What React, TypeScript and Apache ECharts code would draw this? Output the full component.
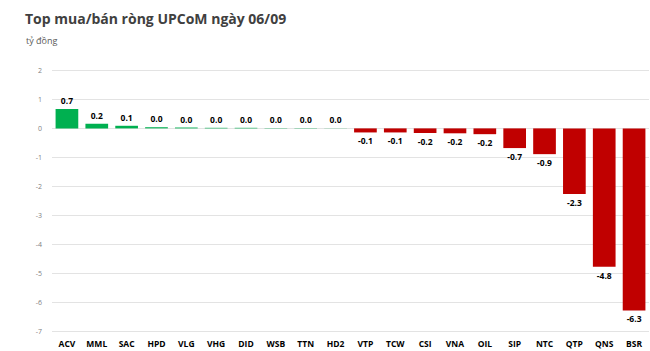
import React, { useEffect, useRef } from "react";
import * as echarts from "echarts";

const categories = ["ACV", "MML", "SAC", "HPD", "VLG", "VHG", "DID", "WSB", "TTN", "HD2", "VTP", "TCW", "CSI", "VNA", "OIL", "SIP", "NTC", "QTP", "QNS", "BSR"];
const values = [0.67, 0.16, 0.09, 0.04, 0.03, 0.02, 0.02, 0.01, 0.01, 0.005, -0.14, -0.14, -0.16, -0.17, -0.2, -0.68, -0.89, -2.27, -4.78, -6.29];
const yTicks = { min: -7, max: 2, interval: 1 };
const title = "Top mua/bán ròng UPCoM ngày 06/09";
const unit = "tỷ đồng";

const FONT = "'Open Sans', 'Noto Sans', sans-serif";

export default function App() {
  const ref = useRef<HTMLDivElement>(null);
  useEffect(() => {
    if (!ref.current) return;
    const chart = echarts.init(ref.current, null, { renderer: "svg" });
    chart.setOption({
      animation: false,
      backgroundColor: "#ffffff",
      title: [
        {
          text: title,
          left: 20,
          top: 6,
          textStyle: { fontFamily: FONT, fontSize: 14, fontWeight: "bold", color: "#404040" },
        },
        {
          text: unit,
          left: 21,
          top: 31,
          textStyle: { fontFamily: FONT, fontSize: 9, fontWeight: "normal", color: "#595959" },
        },
      ],
      grid: { left: 52, right: 1, top: 70.5, bottom: 20, containLabel: false },
      xAxis: {
        type: "category",
        data: categories,
        axisLine: { show: false, onZero: false },
        axisTick: { show: false },
        axisLabel: { fontFamily: FONT, fontSize: 8.5, fontWeight: "bold", color: "#000", margin: 8, interval: 0 },
      },
      yAxis: {
        type: "value",
        min: yTicks.min,
        max: yTicks.max,
        interval: yTicks.interval,
        axisLine: { show: false },
        axisTick: { show: false },
        axisLabel: { fontFamily: FONT, fontSize: 7, color: "#7f7f7f", margin: 10 },
        splitLine: { lineStyle: { color: "#e3e3e3", width: 1 } },
      },
      series: [
        {
          type: "bar",
          data: values.map((v) => ({
            value: v,
            itemStyle: { color: v >= 0 ? "#00B050" : "#C00000" },
            label: { position: v >= 0 ? "top" : "bottom" },
          })),
          barWidth: "76%",
          label: {
            show: true,
            fontFamily: FONT,
            fontSize: 8.5,
            fontWeight: "bold",
            color: "#000",
            distance: 4,
            formatter: (p: any) => p.value.toFixed(1),
          },
        },
      ],
    });
    return () => chart.dispose();
  }, []);
  return <div ref={ref} style={{ position: "fixed", left: 0, top: 0, width: 650, height: 351 }} />;
}
